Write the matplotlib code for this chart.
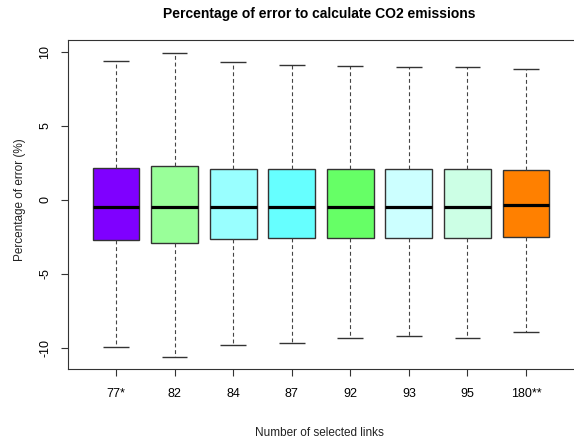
import matplotlib.pyplot as plt

plt.rcParams['font.family'] = ['Liberation Sans', 'DejaVu Sans']

# Links groups and box statistics
labels = ["77*", "82", "84", "87", "92", "93", "95", "180**"]
whislo = [-9.9, -10.6, -9.8, -9.65, -9.3, -9.2, -9.35, -8.95]
q1 = [-2.7, -2.9, -2.65, -2.6, -2.55, -2.55, -2.55, -2.5]
med = [-0.48, -0.5, -0.45, -0.45, -0.45, -0.45, -0.45, -0.35]
q3 = [2.16, 2.3, 2.1, 2.1, 2.1, 2.1, 2.07, 2.05]
whishi = [9.4, 9.95, 9.3, 9.1, 9.05, 9.0, 9.0, 8.85]
colors = ["#7F00FF", "#99FF99", "#99FFFF", "#66FFFF", "#66FF66",
          "#CCFFFF", "#CCFFE5", "#FF8000"]

stats = []
for i in range(len(labels)):
    stats.append(dict(label=labels[i], whislo=whislo[i], q1=q1[i], med=med[i],
                      q3=q3[i], whishi=whishi[i], fliers=[]))

fig = plt.figure(figsize=(5.74, 4.45), dpi=100)
ax = fig.add_axes([68 / 574, 76 / 445, 1 - 68 / 574, 329 / 445])

pos = list(range(1, len(labels) + 1))
bp = ax.bxp(stats, positions=pos, widths=0.8, patch_artist=True,
            showfliers=False,
            boxprops=dict(edgecolor="#333333", linewidth=1.0),
            medianprops=dict(color="black", linewidth=2.3),
            whiskerprops=dict(color="#444444", linestyle=(0, (3.5, 2.5)), linewidth=0.8),
            capprops=dict(color="#333333", linewidth=1.0, solid_capstyle='butt'),
            capwidths=0.44)
for patch, c in zip(bp['boxes'], colors):
    patch.set_facecolor(c)

ax.set_xlim(0.18, 8.82)
ax.set_ylim(-11.42, 10.81)
ax.set_yticks([-10, -5, 0, 5, 10])
ax.set_yticklabels(["-10", "-5", "0", "5", "10"], rotation=90, va='center')
ax.set_xticks(pos)
ax.set_xticklabels(labels)
ax.tick_params(axis='both', length=5, width=0.8, color="#333333", labelsize=9)
ax.tick_params(axis='x', pad=9)
ax.tick_params(axis='y', pad=7)
ax.spines['right'].set_visible(False)
for s in ['left', 'top', 'bottom']:
    ax.spines[s].set_color("#333333")
    ax.spines[s].set_linewidth(0.8)

fig.text(0.557, 1 - 14 / 445, "Percentage of error to calculate CO2 emissions",
         ha='center', va='center', fontsize=10, fontweight='bold')
fig.text(0.557, 1 - 433 / 445, "Number of selected links", ha='center',
         va='center', fontsize=8.5, color="#222222")
fig.text(20 / 574, 1 - 200 / 445, "Percentage of error (%)", rotation=90,
         ha='center', va='center', fontsize=8.5, color="#222222")

fig.savefig("out.png", dpi=100)
